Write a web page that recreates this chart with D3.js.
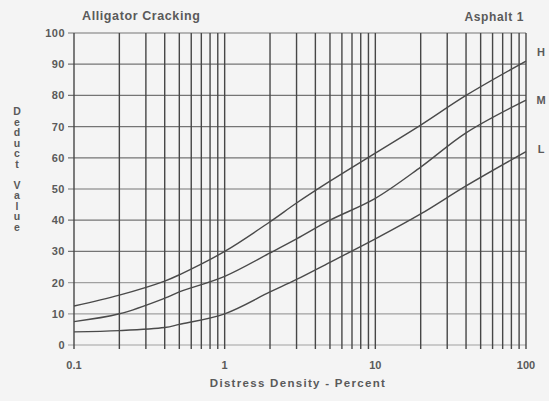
<!DOCTYPE html>
<html>
<head>
<meta charset="utf-8">
<script src="https://cdn.jsdelivr.net/npm/d3@7"></script>
<style>
	body { margin: 0; background: #f4f4f4; }
	svg { display: block; }
	text { font-family: "Liberation Sans", Arial, sans-serif; fill: #5a5a5a; font-weight: bold; }
</style>
</head>
<body>
<svg id="chart" width="549" height="401"></svg>
<script>
"use strict";

// distress density (percent)
var density = [0.1, 0.2, 0.4, 0.5, 1, 2, 3, 5, 10, 20, 40, 100];
// deduct values per severity
var highVals   = [12.5, 16, 20.5, 22.5, 30, 39.5, 45.5, 52.5, 61.5, 70.5, 80, 91];
var mediumVals = [7.5, 10, 15, 17, 22, 29.5, 34, 40, 47, 57, 68, 78.5];
var lowVals    = [4.2, 4.6, 5.6, 6.6, 10, 17, 21, 26.5, 34, 42, 51, 62];
var seriesNames = ["H", "M", "L"];

var xTickValues = [0.1, 1, 10, 100];
var xTickLabels = ["0.1", "1", "10", "100"];
var yTickValues = [0, 10, 20, 30, 40, 50, 60, 70, 80, 90, 100];

var svg = d3.select("#chart");

var x = d3.scaleLog().domain([0.1, 100]).range([74, 526]);
var y = d3.scaleLinear().domain([0, 100]).range([345, 33]);

// horizontal grid
svg.selectAll(".hgrid")
	.data(yTickValues)
  .enter().append("line")
	.attr("class", "hgrid")
	.attr("x1", 68)
	.attr("x2", x(100))
	.attr("y1", function(d){ return y(d); })
	.attr("y2", function(d){ return y(d); })
	.style("stroke", function(d){ return (d == 10 || d == 20 || d == 0) ? "#a0a0a0" : "#747474"; })
	.style("stroke-width", 1.2);

// vertical log grid
svg.selectAll(".vgrid")
	.data(x.ticks())
  .enter().append("line")
	.attr("class", "vgrid")
	.attr("x1", function(d){ return x(d); })
	.attr("x2", function(d){ return x(d); })
	.attr("y1", y(100))
	.attr("y2", y(0) + 4)
	.style("stroke", "#474747")
	.style("stroke-width", 1.4);

// curves
var line = d3.line()
	.x(function(d){ return x(d[0]); })
	.y(function(d){ return y(d[1]); })
	.curve(d3.curveCatmullRom.alpha(0.5));

var allSeries = [highVals, mediumVals, lowVals];
svg.selectAll(".curve")
	.data(allSeries)
  .enter().append("path")
	.attr("class", "curve")
	.attr("d", function(vals){ return line(density.map(function(dd, i){ return [dd, vals[i]]; })); })
	.style("fill", "none")
	.style("stroke", "#4a4a4a")
	.style("stroke-width", 1.4);

// severity labels at right end
svg.selectAll(".sev")
	.data(allSeries)
  .enter().append("text")
	.attr("class", "sev")
	.attr("x", 541)
	.attr("y", function(vals, i){ return [56, 104, 153][i]; })
	.attr("text-anchor", "middle")
	.style("font-size", "11px")
	.text(function(vals, i){ return seriesNames[i]; });

// y tick labels
svg.selectAll(".ylab")
	.data(yTickValues)
  .enter().append("text")
	.attr("class", "ylab")
	.attr("x", 65)
	.attr("y", function(d){ return y(d) + 4; })
	.attr("text-anchor", "end")
	.style("font-size", "11px")
	.style("letter-spacing", "0.5px")
	.text(function(d){ return d; });

// x tick labels
svg.selectAll(".xlab")
	.data(xTickValues)
  .enter().append("text")
	.attr("class", "xlab")
	.attr("x", function(d){ return x(d); })
	.attr("y", 369)
	.attr("text-anchor", "middle")
	.style("font-size", "11px")
	.text(function(d, i){ return xTickLabels[i]; });

// titles
svg.append("text")
	.attr("x", 82).attr("y", 20)
	.style("font-size", "12.5px")
	.style("letter-spacing", "0.6px")
	.text("Alligator Cracking");

svg.append("text")
	.attr("x", 524).attr("y", 21)
	.attr("text-anchor", "end")
	.style("font-size", "12px")
	.style("letter-spacing", "0.6px")
	.text("Asphalt 1");

svg.append("text")
	.attr("x", 298).attr("y", 387)
	.attr("text-anchor", "middle")
	.style("font-size", "11.5px")
	.style("letter-spacing", "1.3px")
	.text("Distress Density - Percent");

// stacked y axis title
var yTitle = "Deduct Value".split("");
svg.selectAll(".ytitle")
	.data(yTitle)
  .enter().append("text")
	.attr("class", "ytitle")
	.attr("x", 17)
	.attr("y", function(d, i){ return 115 + i * 10.5; })
	.attr("text-anchor", "middle")
	.style("font-size", "10.5px")
	.text(function(d){ return d; });
</script>
</body>
</html>
